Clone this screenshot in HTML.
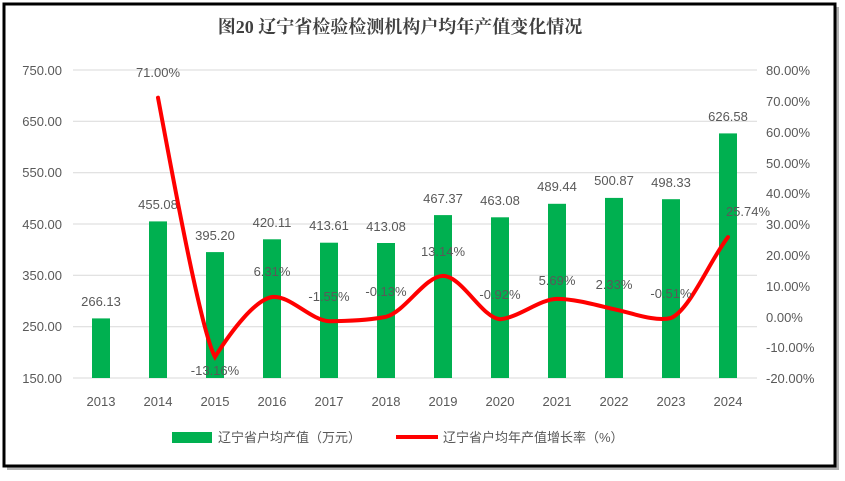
<!DOCTYPE html>
<html><head><meta charset="utf-8"><style>
body{margin:0;background:#fff;width:845px;height:476px;overflow:hidden}
text{font-family:"Liberation Sans","Noto Sans CJK SC",sans-serif;fill:#595959;font-size:13px}
</style></head><body>
<svg width="845" height="476" xmlns="http://www.w3.org/2000/svg">
<rect x="7" y="7" width="832" height="463" fill="#666" opacity="0.5"/>
<rect x="4" y="4" width="831" height="462" fill="#fff" stroke="#000" stroke-width="3"/>
<text x="400" y="33" text-anchor="middle" style="font-family:'Liberation Serif','Noto Serif CJK SC',serif;font-size:18px;font-weight:bold;fill:#404040">图20  辽宁省检验检测机构户均年产值变化情况</text>
<g stroke="#d9d9d9" stroke-width="1">
<line x1="73" x2="757" y1="70" y2="70"/><line x1="73" x2="757" y1="121.3" y2="121.3"/>
<line x1="73" x2="757" y1="172.7" y2="172.7"/><line x1="73" x2="757" y1="224" y2="224"/>
<line x1="73" x2="757" y1="275.3" y2="275.3"/><line x1="73" x2="757" y1="326.7" y2="326.7"/>
<line x1="73" x2="757" y1="378" y2="378"/></g>
<g text-anchor="end">
<text x="62" y="75">750.00</text><text x="62" y="126">650.00</text><text x="62" y="177">550.00</text>
<text x="62" y="229">450.00</text><text x="62" y="280">350.00</text><text x="62" y="331">250.00</text><text x="62" y="383">150.00</text></g>
<g text-anchor="start">
<text x="766" y="75">80.00%</text><text x="766" y="106">70.00%</text><text x="766" y="137">60.00%</text>
<text x="766" y="168">50.00%</text><text x="766" y="198">40.00%</text><text x="766" y="229">30.00%</text>
<text x="766" y="260">20.00%</text><text x="766" y="291">10.00%</text><text x="766" y="322">0.00%</text>
<text x="766" y="352">-10.00%</text><text x="766" y="383">-20.00%</text></g>
<g fill="#00b050">
<rect x="92" y="318.4" width="18" height="59.6"/><rect x="149" y="221.4" width="18" height="156.6"/>
<rect x="206" y="252.1" width="18" height="125.9"/><rect x="263" y="239.3" width="18" height="138.7"/>
<rect x="320" y="242.7" width="18" height="135.3"/><rect x="377" y="243" width="18" height="135"/>
<rect x="434" y="215.1" width="18" height="162.9"/><rect x="491" y="217.3" width="18" height="160.7"/>
<rect x="548" y="203.8" width="18" height="174.2"/><rect x="605" y="197.9" width="18" height="180.1"/>
<rect x="662" y="199.2" width="18" height="178.8"/><rect x="719" y="133.4" width="18" height="244.6"/></g>
<g text-anchor="middle">
<text x="101" y="406">2013</text><text x="158" y="406">2014</text><text x="215" y="406">2015</text>
<text x="272" y="406">2016</text><text x="329" y="406">2017</text><text x="386" y="406">2018</text>
<text x="443" y="406">2019</text><text x="500" y="406">2020</text><text x="557" y="406">2021</text>
<text x="614" y="406">2022</text><text x="671" y="406">2023</text><text x="728" y="406">2024</text>
<text x="101" y="306">266.13</text><text x="158" y="209">455.08</text><text x="215" y="240">395.20</text>
<text x="272" y="227">420.11</text><text x="329" y="230">413.61</text><text x="386" y="231">413.08</text>
<text x="443" y="203">467.37</text><text x="500" y="205">463.08</text><text x="557" y="191">489.44</text>
<text x="614" y="185">500.87</text><text x="671" y="187">498.33</text><text x="728" y="121">626.58</text>
</g>
<path d="M158,97.7 C168,150 200,330 215,356.9 C232,330 255,300 272,297 C290,295 310,320 329,321.2 C350,321 370,320 386,316.8 C405,312 425,276 443,275.9 C462,276 482,318 500,319.2 C518,318 540,299 557,298.9 C575,299 596,305 614,309.2 C632,313 655,322 671,318 C690,310 710,260 728,237.1" fill="none" stroke="#ff0000" stroke-width="4" stroke-linecap="round"/>
<g text-anchor="middle">
<text x="158" y="77">71.00%</text><text x="215" y="375">-13.16%</text><text x="272" y="276">6.31%</text>
<text x="329" y="301">-1.55%</text><text x="386" y="296">-0.13%</text><text x="443" y="256">13.14%</text>
<text x="500" y="299">-0.92%</text><text x="557" y="285">5.69%</text><text x="614" y="289">2.33%</text>
<text x="671" y="298">-0.51%</text><text x="748" y="216">25.74%</text></g>
<rect x="172" y="432" width="40" height="11" fill="#00b050"/>
<text x="218" y="442">辽宁省户均产值（万元）</text>
<line x1="396" x2="438" y1="437" y2="437" stroke="#ff0000" stroke-width="4"/>
<text x="443" y="442">辽宁省户均年产值增长率（%）</text>
</svg>
</body></html>
